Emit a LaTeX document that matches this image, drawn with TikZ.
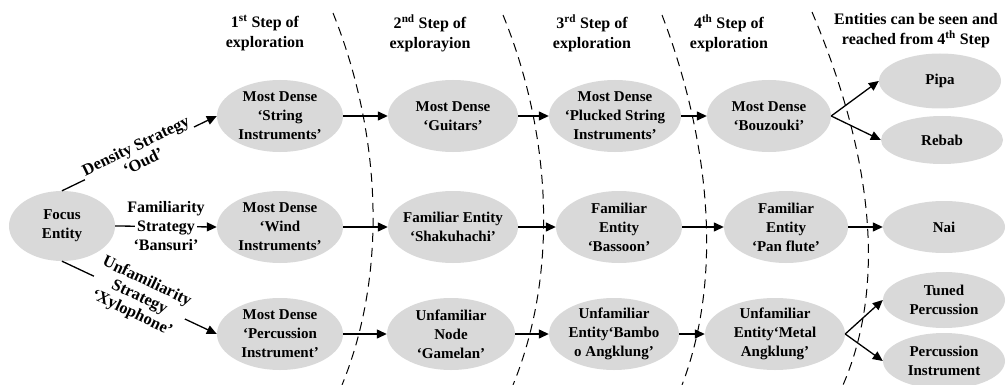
\documentclass[tikz,border=0pt]{standalone}
\usepackage{fontspec}
\setmainfont{Liberation Serif}
\usetikzlibrary{arrows.meta,shapes.geometric}
\definecolor{nodegray}{RGB}{217,217,217}
\begin{document}
\begin{tikzpicture}[x=1pt,y=-1pt,
  every node/.style={font=\bfseries\fontsize{15}{19}\selectfont, align=center},
  stage/.style={ellipse, fill=nodegray, minimum width=126pt, minimum height=72pt,
                inner sep=0pt, label={center:{#1}}},
  leaf/.style={ellipse, fill=nodegray, minimum width=122pt, minimum height=52pt,
               inner sep=0pt, label={center:{#1}}},
  head/.style={font=\bfseries\fontsize{16}{20}\selectfont},
  link/.style={line width=1.3pt, -{Triangle[length=10pt,width=9pt]}},
  divider/.style={line width=1pt, dash pattern=on 9pt off 6pt},
  strat/.style={fill=white, inner sep=2pt, font=\bfseries\fontsize{16}{19}\selectfont},
  slopedstrat/.style={strat, sloped, font=\bfseries\fontsize{16.5}{17.5}\selectfont}
]
\useasboundingbox (0,0) rectangle (1008,385);

% step boundaries
\draw[divider] (333,13) .. controls (380,130) and (389,270) .. (342,385);
\draw[divider] (503,15) .. controls (550,130) and (560,270) .. (513,385);
\draw[divider] (662,15) .. controls (706,130) and (726,270) .. (682,385);
\draw[divider] (812,12) .. controls (862,130) and (893,270) .. (843,385);

% column headings
\node[head] (h1) at (265,33) {1\textsuperscript{st} Step of\\exploration};
\node[head] (h2) at (430,33) {2\textsuperscript{nd} Step of\\explorayion};
\node[head] (h3) at (592,33) {3\textsuperscript{rd} Step of\\exploration};
\node[head] (h4) at (729,33) {4\textsuperscript{th} Step of\\exploration};
\node[head] (h5) at (916,31) {Entities can be seen and\\reached from 4\textsuperscript{th} Step};

% starting point
\node[stage={Focus\\Entity}, minimum width=106pt, minimum height=70pt] (focus) at (62,226) {};

% first step
\node[stage={Most Dense\\‘String\\Instruments’}] (s1) at (280,116) {};
\node[stage={Most Dense\\‘Wind\\Instruments’}] (w1) at (280,227) {};
\node[stage={Most Dense\\‘Percussion\\Instrument’}] (p1) at (280,334) {};

% second step
\node[stage={Most Dense\\‘Guitars’}, minimum width=130pt] (g2) at (453,116) {};
\node[stage={Familiar Entity\\‘Shakuhachi’}, minimum width=130pt] (sh2) at (453,227) {};
\node[stage={Unfamiliar\\Node\\‘Gamelan’}, minimum width=128pt] (ga2) at (451,334) {};

% third step
\node[stage={Most Dense\\‘Plucked String\\Instruments’}, minimum width=132pt] (pl3) at (615,116) {};
\node[stage={Familiar\\Entity\\‘Bassoon’}] (ba3) at (619,227) {};
\node[stage={Unfamiliar\\Entity‘Bambo\\o Angklung’}, minimum width=130pt] (bm3) at (614,334) {};

% fourth step
\node[stage={Most Dense\\‘Bouzouki’}, minimum width=124pt] (bz4) at (769,116) {};
\node[stage={Familiar\\Entity\\‘Pan flute’}, minimum width=124pt] (pf4) at (786,227) {};
\node[stage={Unfamiliar\\Entity‘Metal\\Angklung’}, minimum width=140pt] (ma4) at (775,334) {};

% reachable entities
\node[leaf={Pipa}, minimum height=55pt] (pipa) at (940,81) {};
\node[leaf={Rebab}, minimum height=48pt] (rebab) at (942,140) {};
\node[leaf={Nai}] (nai) at (944,227) {};
\node[leaf={Tuned\\Percussion}, minimum height=56pt] (tuned) at (944,300) {};
\node[leaf={Percussion\\Instrument}, minimum height=56pt] (perc) at (944,361) {};

% strategies leaving the focus entity
\draw[link] (focus.north) -- node[slopedstrat] {Density Strategy\\‘Oud’} (s1.west);
\draw[link] (focus.east) -- node[strat, inner xsep=-8pt] {Familiarity\\Strategy\\‘Bansuri’} (w1.west);
\draw[link] (focus.south) -- node[slopedstrat] {Unfamiliarity\\Strategy\\‘Xylophone’} (p1.west);

% exploration steps
\draw[link] (s1.east) -- (g2.west);
\draw[link] (g2.east) -- (pl3.west);
\draw[link] (pl3.east) -- (bz4.west);
\draw[link] (w1.east) -- (sh2.west);
\draw[link] (sh2.east) -- (ba3.west);
\draw[link] (ba3.east) -- (pf4.west);
\draw[link] (p1.east) -- (ga2.west);
\draw[link] (ga2.east) -- (bm3.west);
\draw[link] (bm3.east) -- (ma4.west);

% what the fourth step reaches
\draw[link] (bz4.east) -- (pipa.west);
\draw[link] (bz4.east) -- (rebab.west);
\draw[link] (pf4.east) -- (nai.west);
\draw[link] (ma4.east) -- (tuned.west);
\draw[link] (ma4.east) -- (perc.west);
\end{tikzpicture}
\end{document}
